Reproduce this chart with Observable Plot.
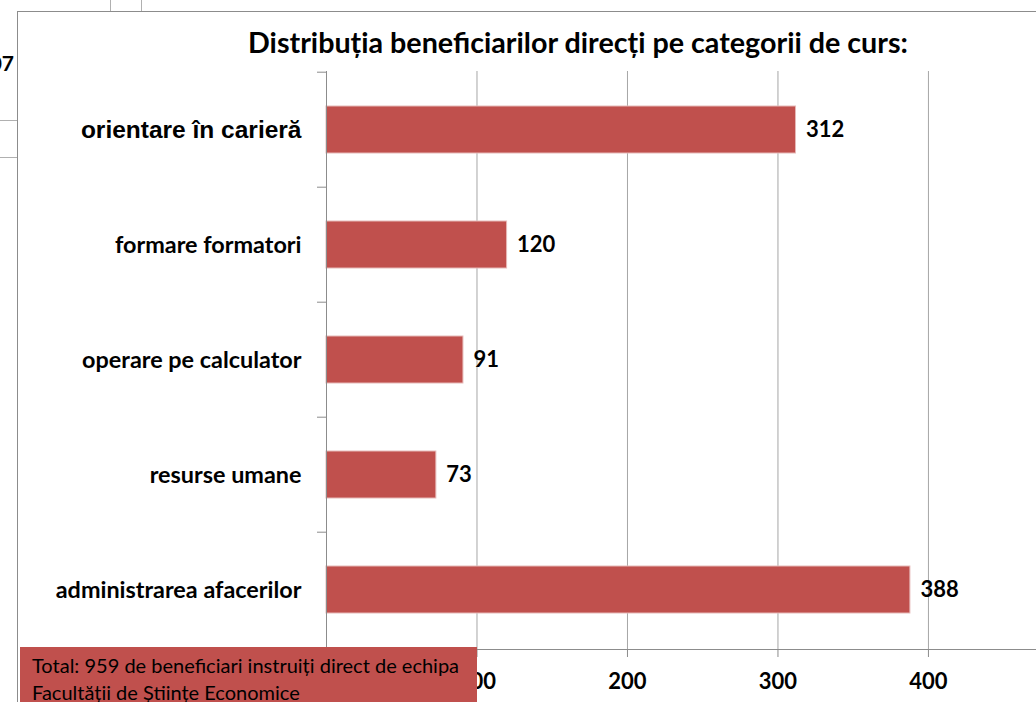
<!DOCTYPE html>
<html>
<head>
<meta charset="utf-8">
<script src="https://cdn.jsdelivr.net/npm/d3@7"></script>
<script src="https://cdn.jsdelivr.net/npm/@observablehq/plot@0.6"></script>
<style>
  html, body { margin: 0; padding: 0; background: #fff; overflow: hidden; }
  #wrap { position: relative; width: 1036px; height: 702px; overflow: hidden; }
  .deco { position: absolute; background: #b0b0b0; }
  #frame { position: absolute; left: 17px; top: 11px; width: 1100px; height: 800px; border: 1px solid #8c8c8c; box-sizing: border-box; }
  #chart { position: absolute; left: 0; top: 0; }
  #title { position: absolute; left: 120px; width: 916px; top: 28px; text-align: center; line-height: 29px;
           font-family: Lato, sans-serif; font-weight: bold; font-size: 28.7px; color: #000; white-space: nowrap; }
  #stub { position: absolute; right: 1022px; top: 50px; font-family: Lato, sans-serif; font-weight: bold; font-size: 21px; color: #000; }
  #caption { position: absolute; left: 20px; top: 647px; width: 457px; height: 60px; background: #C0504D;
             box-sizing: border-box; padding: 5px 0 0 12px; font-family: Lato, sans-serif; font-size: 20px; line-height: 27px; color: #000; white-space: nowrap; }
</style>
</head>
<body>
<div id="wrap">
  <div class="deco" style="left:110px;top:0;width:1px;height:11px"></div>
  <div class="deco" style="left:141px;top:0;width:1px;height:11px"></div>
  <div class="deco" style="left:0;top:120px;width:17px;height:1px"></div>
  <div class="deco" style="left:0;top:157px;width:17px;height:1px"></div>
  <div id="stub">2007</div>
  <div id="frame"></div>
  <div id="chart"></div>
  <div id="title"></div>
  <div id="caption"></div>
</div>
<script>
const categories = ["orientare în carieră", "formare formatori", "operare pe calculator", "resurse umane", "administrarea afacerilor"];
const values = [312, 120, 91, 73, 388];
const xTicks = [0, 100, 200, 300, 400];
const titleText = "Distribuția beneficiarilor direcți pe categorii de curs:";
const captionLines = ["Total: 959 de beneficiari instruiți direct de echipa", "Facultății de Științe Economice"];

const data = categories.map((c, i) => ({category: c, value: values[i]}));

const W = 1036, H = 702, mTop = 71, mBottom = 53, mLeft = 326;
const step = (H - mTop - mBottom) / categories.length;

const chart = Plot.plot({
  width: W,
  height: H,
  marginLeft: mLeft,
  marginRight: 0,
  marginTop: mTop,
  marginBottom: mBottom,
  style: {background: "transparent", color: "#000", overflow: "visible"},
  x: {domain: [0, 471.8]},
  y: {domain: categories, paddingInner: 0.59, paddingOuter: 0.295, label: null},
  marks: [
    Plot.gridX(xTicks.slice(1), {stroke: "#a6a6a6", strokeOpacity: 1}),
    Plot.barX(data, {x: "value", y: "category", fill: "#C0504D", stroke: "#E6B9B8", strokeWidth: 1}),
    Plot.text(data, {x: "value", y: "category", text: d => String(d.value), dx: 10, textAnchor: "start",
      fontSize: 22, fontWeight: "bold", fontFamily: "Lato", fill: "#000"}),
    Plot.ruleX([0], {stroke: "#8c8c8c"}),
    Plot.frame({anchor: "bottom", stroke: "#8c8c8c"}),
    Plot.axisX(xTicks, {tickSize: 8, tickPadding: 16, fontSize: 22, fontWeight: "bold", fontFamily: "Lato",
      stroke: "#8c8c8c", label: null}),
    Plot.axisY(categories.slice(0, 1), {tickSize: 0, tickPadding: 25, fontSize: 24.5, fontWeight: "bold", fontFamily: "Liberation Sans", label: null}),
    Plot.axisY(categories.slice(1), {tickSize: 0, tickPadding: 25, fontSize: 23.4, fontWeight: "bold", fontFamily: "Lato", label: null}),
    Plot.axisY({tickSize: 9, text: null, dy: -step / 2, stroke: "#8c8c8c", label: null})
  ]
});
document.getElementById("chart").appendChild(chart);
document.getElementById("title").textContent = titleText;
const cap = document.getElementById("caption");
captionLines.forEach(t => { const d = document.createElement("div"); d.textContent = t; cap.appendChild(d); });
</script>
</body>
</html>
